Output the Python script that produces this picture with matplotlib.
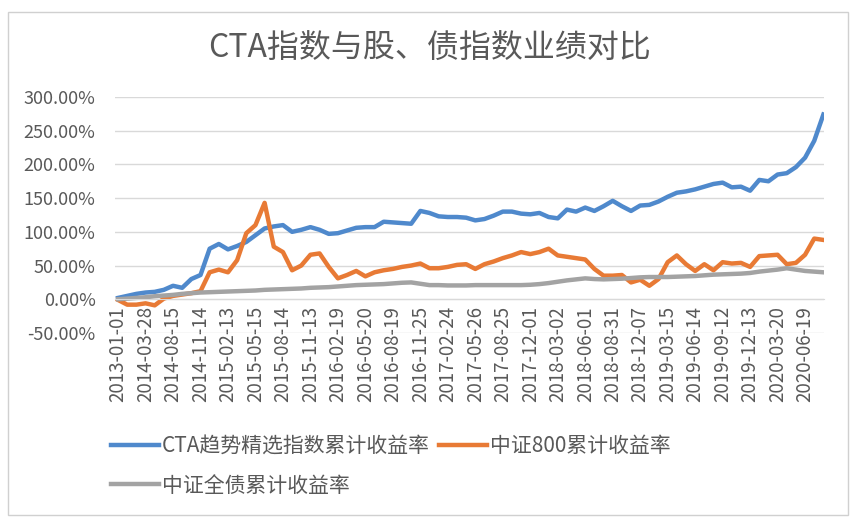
import matplotlib
matplotlib.use("Agg")
import matplotlib.pyplot as plt
from matplotlib.patches import Rectangle

plt.rcParams['font.family'] = ['Noto Sans CJK SC', 'DejaVu Sans']

# ================= DATA =================
title = "CTA指数与股、债指数业绩对比"

series_names = ["CTA趋势精选指数累计收益率", "中证800累计收益率", "中证全债累计收益率"]

tick_labels = [
    "2013-01-01", "2014-03-28", "2014-08-15", "2014-11-14", "2015-02-13",
    "2015-05-15", "2015-08-14", "2015-11-13", "2016-02-19", "2016-05-20",
    "2016-08-19", "2016-11-25", "2017-02-24", "2017-05-26", "2017-08-25",
    "2017-12-01", "2018-03-02", "2018-06-01", "2018-08-31", "2018-12-07",
    "2019-03-15", "2019-06-14", "2019-09-12", "2019-12-13", "2020-03-20",
    "2020-06-19",
]
points_per_label = 3

# cumulative returns in %
cta = [
    2, 5, 8, 10, 11, 14, 20, 17, 30, 36,
    75, 82, 74, 79, 85, 95, 105, 108, 110, 100,
    103, 107, 103, 97, 98, 102, 106, 107, 107, 115,
    114, 113, 112, 131, 128, 123, 122, 122, 121, 117,
    119, 124, 130, 130, 127, 126, 128, 122, 120, 133,
    130, 136, 131, 138, 146, 138, 131, 139, 140, 145,
    152, 158, 160, 163, 167, 171, 173, 166, 167, 161,
    177, 175, 185, 187, 196, 210, 235, 274,
]
csi800 = [
    -1, -8, -8, -6, -9, 1, 5, 7, 9, 12,
    40, 44, 40, 58, 98, 110, 143, 78, 70, 43,
    50, 66, 68, 48, 31, 36, 42, 34, 40, 43,
    45, 48, 50, 53, 46, 46, 48, 51, 52, 45,
    52, 56, 61, 65, 70, 67, 70, 75, 65, 63,
    61, 59, 45, 35, 35, 36, 25, 29, 20, 30,
    55, 65, 52, 42, 52, 43, 55, 53, 54, 48,
    64, 65, 66, 52, 54, 66, 90, 88,
]
bond = [
    0, 1, 2, 3, 4.5, 5.5, 6.5, 8, 9, 10,
    10.5, 11, 11.5, 12, 12.5, 13, 14, 14.5, 15, 15.5,
    16, 17, 17.5, 18, 19, 20, 21, 21.5, 22, 22.5,
    23.5, 24.5, 25, 23, 21, 21, 20.5, 20.5, 20.5, 21,
    21, 21, 21, 21, 21, 21.5, 22.5, 24, 26, 28,
    29.5, 31, 30, 29.5, 30, 30.5, 31.5, 32.5, 33, 33,
    33, 33.5, 34, 34.5, 35.5, 36.5, 37, 37.5, 38, 39,
    41, 42.5, 44, 46, 44, 42, 41, 40,
]

colors = ["#4f89cc", "#e87a35", "#a3a3a3"]
text_color = "#595959"
grid_color = "#d9d9d9"

# ================= PLOT =================
fig = plt.figure(figsize=(8.54, 5.22), dpi=100)
ax = fig.add_axes([0.1347, 0.3621, 0.830, 0.4521])

# axis line crosses at 0 (set before ticks, it resets them)
for s in ["top", "right", "left"]:
    ax.spines[s].set_visible(False)
ax.spines["bottom"].set_position(("data", 0))
ax.spines["bottom"].set_color(grid_color)

x = list(range(len(cta)))
lines = []
for vals, name, c in zip([cta, csi800, bond], series_names, colors):
    ln, = ax.plot(x, vals, color=c, lw=3.2, label=name, solid_joinstyle="round")
    lines.append(ln)

ax.set_ylim(-50, 300)
ax.set_yticks(range(-50, 301, 50))
ax.yaxis.set_major_formatter(lambda v, p: f"{v:.2f}%")
ax.set_xlim(-0.33, len(cta) - 0.95)
ax.set_xticks(range(0, len(tick_labels) * points_per_label, points_per_label))
ax.set_xticklabels(tick_labels)

ax.grid(axis="y", color=grid_color, lw=1)
ax.set_axisbelow(True)
ax.tick_params(axis="y", length=0, pad=14, labelsize=13, labelcolor=text_color)
ax.tick_params(axis="x", length=0, pad=5, labelsize=13.5, labelcolor=text_color,
               labelrotation=90)

fig.text(0.503, 1 - 49 / 522, title, ha="center", va="center",
         fontsize=23, color=text_color)

# legend: row 1 = CTA, 800 ; row 2 = bond
fig.legend([lines[0], lines[2], lines[1]],
           [series_names[0], series_names[2], series_names[1]],
           loc="upper left", bbox_to_anchor=(111 / 854, 1 - 435 / 522),
           ncol=2, frameon=False, fontsize=15, handlelength=2.3,
           handletextpad=0.15, columnspacing=0.45, labelspacing=0.85,
           borderpad=0, borderaxespad=0, labelcolor=text_color)

# chart border
fig.add_artist(Rectangle((8 / 854, 1 - 515 / 522), 840 / 854, 503 / 522,
                         transform=fig.transFigure, fill=False,
                         edgecolor="#d0d0d0", lw=1))

fig.savefig("out.png", dpi=100)
